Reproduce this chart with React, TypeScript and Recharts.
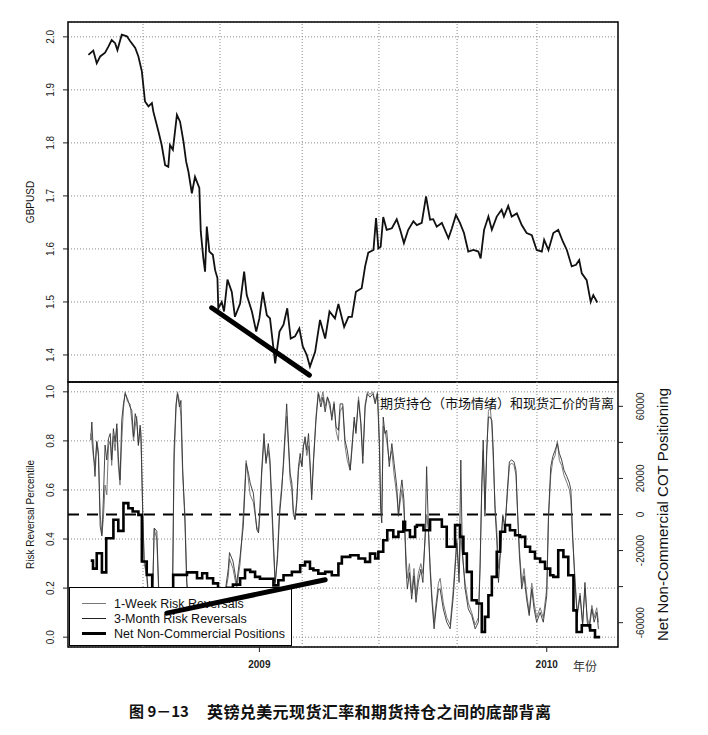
import React from 'react';
import { LineChart, ComposedChart, Line, XAxis, YAxis, CartesianGrid, ReferenceLine, ReferenceArea } from 'recharts';

// time is in decimal years
const X_DOMAIN: [number, number] = [2008.334, 2010.248];
const GRID_T = [2008.595, 2008.863, 2009.149, 2009.416, 2009.688, 2009.966];
const YEAR_TICKS = [2009, 2010];

const GBP_DOMAIN: [number, number] = [1.349, 2.028];
const GBP_TICKS = [1.4, 1.5, 1.6, 1.7, 1.8, 1.9, 2.0];
const RR_DOMAIN: [number, number] = [-0.04, 1.04];
const RR_TICKS = [0, 0.2, 0.4, 0.6, 0.8, 1.0];
const COT_DOMAIN: [number, number] = [-73500, 73500];
const COT_TICKS = [-60000, -40000, -20000, 0, 20000, 40000, 60000];

const gbpT = [
  2008.405, 2008.422, 2008.434, 2008.446, 2008.463, 2008.475, 2008.486, 2008.498, 2008.506, 2008.521,
  2008.539, 2008.55, 2008.568, 2008.579, 2008.591, 2008.602, 2008.614, 2008.626, 2008.631, 2008.649,
  2008.66, 2008.672, 2008.683, 2008.689, 2008.699, 2008.713, 2008.724, 2008.736, 2008.745, 2008.753,
  2008.765, 2008.776, 2008.791, 2008.796, 2008.805, 2008.811, 2008.817, 2008.826, 2008.838, 2008.846,
  2008.854, 2008.857, 2008.869, 2008.877, 2008.889, 2008.904, 2008.915, 2008.933, 2008.947, 2008.956,
  2008.974, 2008.989, 2009.0, 2009.012, 2009.026, 2009.037, 2009.055, 2009.07, 2009.084, 2009.097,
  2009.109, 2009.124, 2009.139, 2009.151, 2009.165, 2009.176, 2009.194,
  2009.211, 2009.229, 2009.244, 2009.263, 2009.275, 2009.295, 2009.31, 2009.322, 2009.336, 2009.356,
  2009.368, 2009.379, 2009.397, 2009.406, 2009.414, 2009.422, 2009.431, 2009.443, 2009.461, 2009.478,
  2009.49, 2009.503, 2009.518, 2009.536, 2009.548, 2009.565, 2009.58, 2009.594, 2009.605, 2009.617,
  2009.635, 2009.658, 2009.67, 2009.684, 2009.698, 2009.712, 2009.727, 2009.745, 2009.762, 2009.77,
  2009.782, 2009.797, 2009.809, 2009.826, 2009.843, 2009.851, 2009.866, 2009.878, 2009.896, 2009.913,
  2009.93, 2009.948, 2009.965, 2009.983, 2009.991, 2010.006, 2010.023, 2010.04, 2010.056, 2010.07,
  2010.087, 2010.102, 2010.113, 2010.122, 2010.139, 2010.153, 2010.162, 2010.176,
];
const gbpV = [
  1.966, 1.974, 1.95, 1.963, 1.97, 1.982, 1.994, 1.988, 1.975, 2.004,
  2.001, 1.992, 1.979, 1.963, 1.935, 1.878, 1.869, 1.875, 1.859, 1.821,
  1.796, 1.758, 1.755, 1.796, 1.787, 1.853, 1.84, 1.802, 1.765, 1.746,
  1.705, 1.736, 1.715, 1.633, 1.582, 1.557, 1.642, 1.595, 1.589, 1.56,
  1.545, 1.488, 1.5, 1.482, 1.542, 1.519, 1.472, 1.497, 1.557, 1.513,
  1.482, 1.444, 1.469, 1.519, 1.475, 1.469, 1.384, 1.444, 1.457, 1.488,
  1.431, 1.435, 1.45, 1.416, 1.4, 1.378, 1.406,
  1.466, 1.431, 1.482, 1.469, 1.496, 1.453, 1.472, 1.472, 1.519, 1.526,
  1.567, 1.593, 1.598, 1.658, 1.601, 1.604, 1.66, 1.636, 1.639, 1.656,
  1.636, 1.611, 1.636, 1.652, 1.645, 1.649, 1.699, 1.655, 1.656, 1.642,
  1.649, 1.62, 1.639, 1.664, 1.649, 1.63, 1.595, 1.598, 1.595, 1.582,
  1.636, 1.661, 1.636, 1.661, 1.674, 1.661, 1.681, 1.661, 1.667, 1.645,
  1.63, 1.626, 1.598, 1.595, 1.617, 1.598, 1.63, 1.636, 1.614, 1.598,
  1.567, 1.57, 1.579, 1.554, 1.541, 1.5, 1.513, 1.499,
];

const rrT = [
  2008.413, 2008.417, 2008.422, 2008.428, 2008.434, 2008.44, 2008.446, 2008.452, 2008.457, 2008.463,
  2008.469, 2008.475, 2008.481, 2008.486, 2008.492, 2008.498, 2008.504, 2008.509, 2008.515, 2008.521,
  2008.527, 2008.533, 2008.541, 2008.55, 2008.556, 2008.562, 2008.568, 2008.573, 2008.579, 2008.585,
  2008.588, 2008.594, 2008.599, 2008.608, 2008.614, 2008.625, 2008.634, 2008.643, 2008.654, 2008.689,
  2008.698, 2008.703, 2008.71, 2008.715, 2008.722, 2008.727, 2008.733, 2008.741, 2008.747, 2008.753,
  2008.794, 2008.863, 2008.892, 2008.896, 2008.908, 2008.921, 2008.933, 2008.944, 2008.954, 2008.962,
  2008.968, 2008.979, 2008.991, 2008.997, 2009.002, 2009.008, 2009.016, 2009.023, 2009.031, 2009.037,
  2009.043, 2009.049, 2009.055, 2009.063, 2009.07, 2009.078, 2009.084, 2009.089, 2009.095, 2009.101,
  2009.107, 2009.113, 2009.118, 2009.124, 2009.13, 2009.136, 2009.142, 2009.148, 2009.153, 2009.159,
  2009.165, 2009.171, 2009.176, 2009.182, 2009.188, 2009.197, 2009.205, 2009.214, 2009.221, 2009.229,
  2009.237, 2009.246, 2009.252, 2009.26, 2009.267, 2009.275, 2009.281, 2009.29, 2009.298, 2009.306,
  2009.316, 2009.322, 2009.33, 2009.336, 2009.345, 2009.353, 2009.36, 2009.368, 2009.376, 2009.385,
  2009.395, 2009.403, 2009.411, 2009.418, 2009.422, 2009.426, 2009.431, 2009.437, 2009.443, 2009.452,
  2009.461, 2009.469, 2009.478, 2009.484, 2009.49, 2009.496, 2009.503, 2009.51, 2009.515, 2009.522,
  2009.53, 2009.538, 2009.545, 2009.553, 2009.562, 2009.569, 2009.577, 2009.582, 2009.588, 2009.594,
  2009.6, 2009.608, 2009.615, 2009.623, 2009.629, 2009.64, 2009.652, 2009.664, 2009.675, 2009.687,
  2009.695, 2009.701, 2009.706, 2009.716, 2009.727, 2009.739, 2009.751, 2009.762, 2009.768, 2009.774,
  2009.779, 2009.785, 2009.791, 2009.797, 2009.803, 2009.809, 2009.814, 2009.82, 2009.826, 2009.832,
  2009.838, 2009.847, 2009.855, 2009.863, 2009.87, 2009.878, 2009.886, 2009.893, 2009.899, 2009.905,
  2009.913, 2009.921, 2009.93, 2009.939, 2009.948, 2009.956, 2009.965, 2009.977, 2009.988, 2010.0,
  2010.006, 2010.014, 2010.021, 2010.029, 2010.037, 2010.044, 2010.052, 2010.06, 2010.07, 2010.079,
  2010.084, 2010.09, 2010.098, 2010.106, 2010.116, 2010.125, 2010.133, 2010.141, 2010.148, 2010.157,
  2010.165, 2010.174, 2010.18,
];
// 3-month risk reversal percentile
const rr3mV = [
  0.803, 0.877, 0.762, 0.655, 0.796, 0.736, 0.452, 0.412, 0.56, 0.783,
  0.722, 0.81, 0.83, 0.722, 0.85, 0.796, 0.87, 0.736, 0.641, 0.884,
  0.951, 0.992, 0.972, 0.938, 0.924, 0.817, 0.911, 0.884, 0.783, 0.864,
  0.83, 0.519, 0.317, 0.263, 0.17, 0.02, 0.445, 0.432, 0.05, 0.05,
  0.2, 0.762, 0.951, 0.992, 0.938, 0.965, 0.695, 0.466, 0.223, 0.15,
  0.04, 0.03, 0.28, 0.345, 0.31, 0.22, 0.331, 0.452, 0.708, 0.668,
  0.628, 0.587, 0.438, 0.425, 0.533, 0.681, 0.83, 0.708, 0.789, 0.722,
  0.56, 0.385, 0.223, 0.317, 0.493, 0.6, 0.722, 0.83, 0.951, 0.803,
  0.668, 0.628, 0.519, 0.479, 0.547, 0.695, 0.749, 0.695, 0.776, 0.817,
  0.762, 0.83, 0.722, 0.56, 0.708, 0.884, 0.992, 0.938, 0.978, 0.918,
  0.978, 0.951, 0.884, 0.951, 0.857, 0.843, 0.951, 0.951, 0.803, 0.762,
  0.681, 0.762, 0.897, 0.83, 0.965, 0.87, 0.708, 0.938, 0.992, 0.978,
  0.992, 0.951, 0.992, 0.762, 0.519, 0.466, 0.897, 0.83, 0.843, 0.695,
  0.789, 0.708, 0.614, 0.493, 0.587, 0.641, 0.56, 0.29, 0.196, 0.263,
  0.155, 0.25, 0.142, 0.223, 0.277, 0.223, 0.425, 0.695, 0.452, 0.277,
  0.155, 0.034, 0.115, 0.196, 0.196, 0.115, 0.061, 0.034, 0.169, 0.385,
  0.223, 0.722, 0.358, 0.196, 0.115, 0.088, 0.034, 0.061, 0.277, 0.628,
  0.803, 0.493, 0.762, 0.897, 0.897, 0.884, 0.762, 0.519, 0.398, 0.223,
  0.331, 0.493, 0.438, 0.6, 0.715, 0.722, 0.715, 0.681, 0.493, 0.331,
  0.196, 0.25, 0.155, 0.088, 0.196, 0.115, 0.061, 0.101, 0.061, 0.169,
  0.493, 0.695, 0.736, 0.762, 0.789, 0.749, 0.722, 0.681, 0.655, 0.628,
  0.6, 0.425, 0.223, 0.088, 0.169, 0.047, 0.223, 0.061, 0.034, 0.115,
  0.061, 0.101, 0.034,
];
// 1-week risk reversal percentile
const rr1wV = [
  0.83, 0.8, 0.74, 0.7, 0.8, 0.76, 0.5, 0.42, 0.48, 0.62,
  0.58, 0.78, 0.8, 0.7, 0.82, 0.76, 0.85, 0.7, 0.62, 0.8,
  0.93, 1.0, 0.96, 0.95, 0.88, 0.8, 0.86, 0.9, 0.78, 0.85,
  0.8, 0.5, 0.3, 0.25, 0.15, 0.02, 0.44, 0.4, 0.03, 0.04,
  0.2, 0.7, 0.93, 1.0, 0.96, 0.9, 0.66, 0.5, 0.25, 0.1,
  0.02, 0.05, 0.25, 0.32, 0.28, 0.2, 0.3, 0.5, 0.72, 0.64,
  0.58, 0.55, 0.45, 0.43, 0.5, 0.66, 0.8, 0.72, 0.76, 0.7,
  0.52, 0.36, 0.21, 0.34, 0.52, 0.62, 0.7, 0.8, 0.9, 0.78,
  0.64, 0.6, 0.5, 0.48, 0.56, 0.68, 0.72, 0.7, 0.78, 0.8,
  0.74, 0.78, 0.7, 0.58, 0.72, 0.9, 1.0, 0.96, 1.0, 0.94,
  0.98, 0.93, 0.9, 0.96, 0.84, 0.8, 0.92, 0.94, 0.78, 0.72,
  0.68, 0.78, 0.88, 0.84, 0.98, 0.88, 0.74, 0.95, 1.0, 0.99,
  1.0, 0.96, 1.0, 0.8, 0.55, 0.5, 0.86, 0.84, 0.8, 0.72,
  0.76, 0.66, 0.58, 0.5, 0.55, 0.6, 0.52, 0.34, 0.24, 0.3,
  0.18, 0.28, 0.17, 0.26, 0.3, 0.26, 0.4, 0.5, 0.44, 0.3,
  0.18, 0.06, 0.14, 0.22, 0.24, 0.14, 0.08, 0.05, 0.2, 0.4,
  0.26, 0.42, 0.34, 0.22, 0.14, 0.1, 0.05, 0.08, 0.3, 0.6,
  0.76, 0.52, 0.74, 0.92, 0.94, 0.86, 0.72, 0.54, 0.44, 0.28,
  0.34, 0.5, 0.46, 0.58, 0.7, 0.71, 0.7, 0.66, 0.5, 0.36,
  0.22, 0.28, 0.18, 0.1, 0.22, 0.14, 0.08, 0.12, 0.08, 0.2,
  0.48, 0.66, 0.72, 0.74, 0.8, 0.72, 0.7, 0.66, 0.63, 0.6,
  0.56, 0.4, 0.25, 0.1, 0.18, 0.06, 0.2, 0.08, 0.05, 0.13,
  0.08, 0.12, 0.06,
];

// weekly net non-commercial COT positions (contracts)
const netT = [
  2008.413, 2008.421, 2008.434, 2008.452, 2008.467, 2008.492, 2008.509, 2008.527, 2008.544, 2008.559,
  2008.579, 2008.591, 2008.608, 2008.627, 2008.654, 2008.7, 2008.748, 2008.783, 2008.801, 2008.818,
  2008.839, 2008.856, 2008.888, 2008.908, 2008.933, 2008.95, 2008.968, 2008.985, 2009.002, 2009.049,
  2009.066, 2009.084, 2009.113, 2009.142, 2009.159, 2009.176, 2009.188, 2009.205, 2009.229, 2009.252,
  2009.275, 2009.287, 2009.316, 2009.345, 2009.368, 2009.385, 2009.403, 2009.414, 2009.431, 2009.445,
  2009.466, 2009.484, 2009.501, 2009.507, 2009.524, 2009.542, 2009.548, 2009.571, 2009.594, 2009.635,
  2009.652, 2009.681, 2009.698, 2009.71, 2009.722, 2009.739, 2009.756, 2009.774, 2009.785, 2009.797,
  2009.809, 2009.826, 2009.838, 2009.855, 2009.872, 2009.89, 2009.907, 2009.925, 2009.942, 2009.959,
  2009.977, 2009.994, 2010.012, 2010.023, 2010.04, 2010.058, 2010.075, 2010.093, 2010.104, 2010.122,
  2010.151, 2010.168, 2010.186,
];
const netV = [
  -25600, -30000, -21500, -32100, -13200, -2900, -9100, 6300, 3500, 1700,
  -200, -26100, -33500, -45600, -51100, -33500, -32100, -35400, -32600, -35400,
  -38200, -41100, -40600, -38900, -35400, -30700, -31800, -34600, -35600, -39300,
  -36500, -33700, -31800, -28200, -26300, -30000, -30900, -32800, -31800, -33700,
  -27200, -23500, -22600, -24400, -26300, -21700, -24400, -20700, -14300, -8700,
  -12400, -9600, -4100, -8700, -12400, -6800, -5900, -8700, -2800, -6800,
  -17900, -5900, -12400, -21700, -31800, -47600, -49400, -65200, -56800, -44800,
  -34600, -20700, -9600, -5900, -8700, -11500, -12400, -17900, -20700, -24400,
  -26300, -30000, -33700, -34600, -19800, -23500, -33700, -53200, -65200, -61500,
  -64300, -68000, -68000,
];

// hand-drawn divergence lines
const priceTrendT = [2008.834, 2009.174];
const priceTrendV = [1.489, 1.362];
const cotTrendT = [2008.678, 2009.229];
const cotTrendV = [0.098, 0.234];

const zip = (ts: number[], vs: number[]) =>
  ts.slice(0, Math.min(ts.length, vs.length)).map((t, i) => ({ t, v: vs[i] }));

const gbpData = zip(gbpT, gbpV);
const rr1wData = zip(rrT, rr1wV);
const rr3mData = zip(rrT, rr3mV);
const netData = zip(netT, netV);
const priceTrend = zip(priceTrendT, priceTrendV);
const cotTrend = zip(cotTrendT, cotTrendV);

const FONT = '"Liberation Sans", Arial, sans-serif';
const CJK = '"Noto Sans CJK SC", sans-serif';
const GRID = '#8a8a8a';

const LeftTick = ({ x, y, payload }: any) => {
  const bx = x - 7;
  return (
    <text x={bx} y={y} transform={`rotate(-90 ${bx} ${y})`} textAnchor="middle" fontSize={10} fill="#222">
      {Number(payload.value).toFixed(1)}
    </text>
  );
};

const RightTick = ({ x, y, payload }: any) => {
  if (Math.abs(payload.value) === 40000) return <g />;
  const bx = x + 19;
  return (
    <text x={bx} y={y} transform={`rotate(-90 ${bx} ${y})`} textAnchor="middle" fontSize={10} fill="#222">
      {payload.value}
    </text>
  );
};

const YearTick = ({ x, y, payload }: any) => (
  <text x={x} y={y + 14} textAnchor="middle" fontSize={10} fontWeight="bold" fill="#222">
    {payload.value}
  </text>
);

const SideTitle = ({ viewBox, text, shift, fs }: any) => {
  const cx = viewBox.x + shift;
  const cy = viewBox.y + viewBox.height / 2;
  return (
    <text x={cx} y={cy} transform={`rotate(-90 ${cx} ${cy})`} textAnchor="middle" fontSize={fs} fill="#111">
      {text}
    </text>
  );
};

const gridLines = (yId?: string) =>
  GRID_T.map((t) => (
    <ReferenceLine key={t} x={t} yAxisId={yId} stroke={GRID} strokeDasharray="1 2" />
  ));

const legendRows = [
  { label: '1-Week Risk Reversals', color: '#777', width: 1 },
  { label: '3-Month Risk Reversals', color: '#222', width: 1 },
  { label: 'Net Non-Commercial Positions', color: '#000', width: 3 },
];

const App: React.FC = () => {
  return (
    <div style={{ position: 'absolute', left: 0, top: 0, width: 708, height: 735, background: '#fff', fontFamily: FONT }}>
      {/* top panel: spot rate */}
      <div style={{ position: 'absolute', left: 0, top: 0 }}>
        <LineChart width={708} height={392} margin={{ top: 22, right: 90, bottom: 10, left: 28 }}>
          <CartesianGrid vertical={false} stroke={GRID} strokeDasharray="1 2" />
          <XAxis dataKey="t" type="number" domain={X_DOMAIN} allowDataOverflow hide />
          <YAxis
            type="number"
            domain={GBP_DOMAIN}
            ticks={GBP_TICKS}
            allowDataOverflow
            width={40}
            tickSize={5}
            tick={<LeftTick />}
            axisLine={false}
            tickLine={{ stroke: '#222' }}
            label={<SideTitle text="GBPUSD" shift={6} fs={10} />}
          />
          {gridLines()}
          <ReferenceArea x1={X_DOMAIN[0]} x2={X_DOMAIN[1]} y1={GBP_DOMAIN[0]} y2={GBP_DOMAIN[1]} fill="none" stroke="#000" strokeWidth={1.5} />
          <Line data={gbpData} dataKey="v" type="linear" stroke="#111" strokeWidth={1.8} dot={false} isAnimationActive={false} />
          <Line data={priceTrend} dataKey="v" type="linear" stroke="#000" strokeWidth={5} strokeLinecap="round" dot={false} isAnimationActive={false} />
        </LineChart>
      </div>

      {/* bottom panel: risk reversals and COT positioning */}
      <div style={{ position: 'absolute', left: 0, top: 372 }}>
        <ComposedChart width={708} height={310} margin={{ top: 10, right: 0, bottom: 5, left: 28 }}>
          <CartesianGrid vertical={false} yAxisId="left" stroke={GRID} strokeDasharray="1 2" />
          <XAxis
            dataKey="t"
            type="number"
            domain={X_DOMAIN}
            allowDataOverflow
            ticks={YEAR_TICKS}
            height={30}
            tickSize={5}
            axisLine={false}
            tickLine={{ stroke: '#222' }}
            tick={<YearTick />}
          />
          <YAxis
            yAxisId="left"
            type="number"
            domain={RR_DOMAIN}
            ticks={RR_TICKS}
            allowDataOverflow
            width={40}
            tickSize={5}
            axisLine={false}
            tickLine={{ stroke: '#222' }}
            tick={<LeftTick />}
            label={<SideTitle text="Risk Reversal Percentile" shift={6} fs={10} />}
          />
          <YAxis
            yAxisId="right"
            orientation="right"
            type="number"
            domain={COT_DOMAIN}
            ticks={COT_TICKS}
            allowDataOverflow
            width={90}
            tickSize={5}
            axisLine={false}
            tickLine={{ stroke: '#222' }}
            tick={<RightTick />}
            label={<SideTitle text="Net Non-Commercial COT Positioning" shift={50} fs={15} />}
          />
          {gridLines('left')}
          <ReferenceLine yAxisId="left" y={0.5} stroke="#000" strokeWidth={2} strokeDasharray="11 8" />
          <Line yAxisId="left" data={rr1wData} dataKey="v" type="linear" stroke="#7a7a7a" strokeWidth={1} dot={false} isAnimationActive={false} />
          <Line yAxisId="left" data={rr3mData} dataKey="v" type="linear" stroke="#333" strokeWidth={0.9} dot={false} isAnimationActive={false} />
          <Line yAxisId="right" data={netData} dataKey="v" type="stepAfter" stroke="#000" strokeWidth={2.6} dot={false} isAnimationActive={false} />
          <ReferenceArea yAxisId="left" x1={X_DOMAIN[0]} x2={X_DOMAIN[1]} y1={RR_DOMAIN[0]} y2={RR_DOMAIN[1]} fill="none" stroke="#000" strokeWidth={1.5} />
        </ComposedChart>
      </div>

      {/* legend box, drawn over the series like R's legend(bg="white") */}
      <div
        style={{
          position: 'absolute', left: 69, top: 587, width: 223, height: 59,
          border: '1px solid #000', background: '#fff', boxSizing: 'border-box', paddingTop: 8,
        }}
      >
        {legendRows.map((r) => (
          <div key={r.label} style={{ display: 'flex', alignItems: 'center', height: 15 }}>
            <svg width={44} height={15} style={{ flex: 'none' }}>
              <line x1={12} x2={36} y1={7.5} y2={7.5} stroke={r.color} strokeWidth={r.width} />
            </svg>
            <span style={{ fontSize: 12.5, color: '#111', whiteSpace: 'nowrap' }}>{r.label}</span>
          </div>
        ))}
      </div>

      {/* divergence line on top of the legend */}
      <div style={{ position: 'absolute', left: 0, top: 372, pointerEvents: 'none' }}>
        <LineChart width={708} height={310} margin={{ top: 10, right: 90, bottom: 35, left: 68 }}>
          <XAxis dataKey="t" type="number" domain={X_DOMAIN} allowDataOverflow hide />
          <YAxis type="number" domain={RR_DOMAIN} allowDataOverflow hide />
          <Line data={cotTrend} dataKey="v" type="linear" stroke="#000" strokeWidth={5} strokeLinecap="round" dot={false} isAnimationActive={false} />
        </LineChart>
      </div>

      <div style={{ position: 'absolute', left: 380, top: 395, fontFamily: CJK, fontSize: 13, lineHeight: '16px', color: '#111', whiteSpace: 'nowrap' }}>
        期货持仓（市场情绪）和现货汇价的背离
      </div>
      <div style={{ position: 'absolute', left: 573, top: 658, fontFamily: CJK, fontSize: 12, lineHeight: '16px', color: '#333' }}>
        年份
      </div>
      <div style={{ position: 'absolute', left: 129, top: 702, fontFamily: CJK, fontSize: 15, fontWeight: 'bold', lineHeight: '18px', color: '#111', whiteSpace: 'nowrap' }}>
        图 9－13
      </div>
      <div style={{ position: 'absolute', left: 207, top: 702, fontFamily: CJK, fontSize: 16, letterSpacing: 0.4, fontWeight: 'bold', lineHeight: '18px', color: '#111', whiteSpace: 'nowrap' }}>
        英镑兑美元现货汇率和期货持仓之间的底部背离
      </div>
    </div>
  );
};

export default App;
